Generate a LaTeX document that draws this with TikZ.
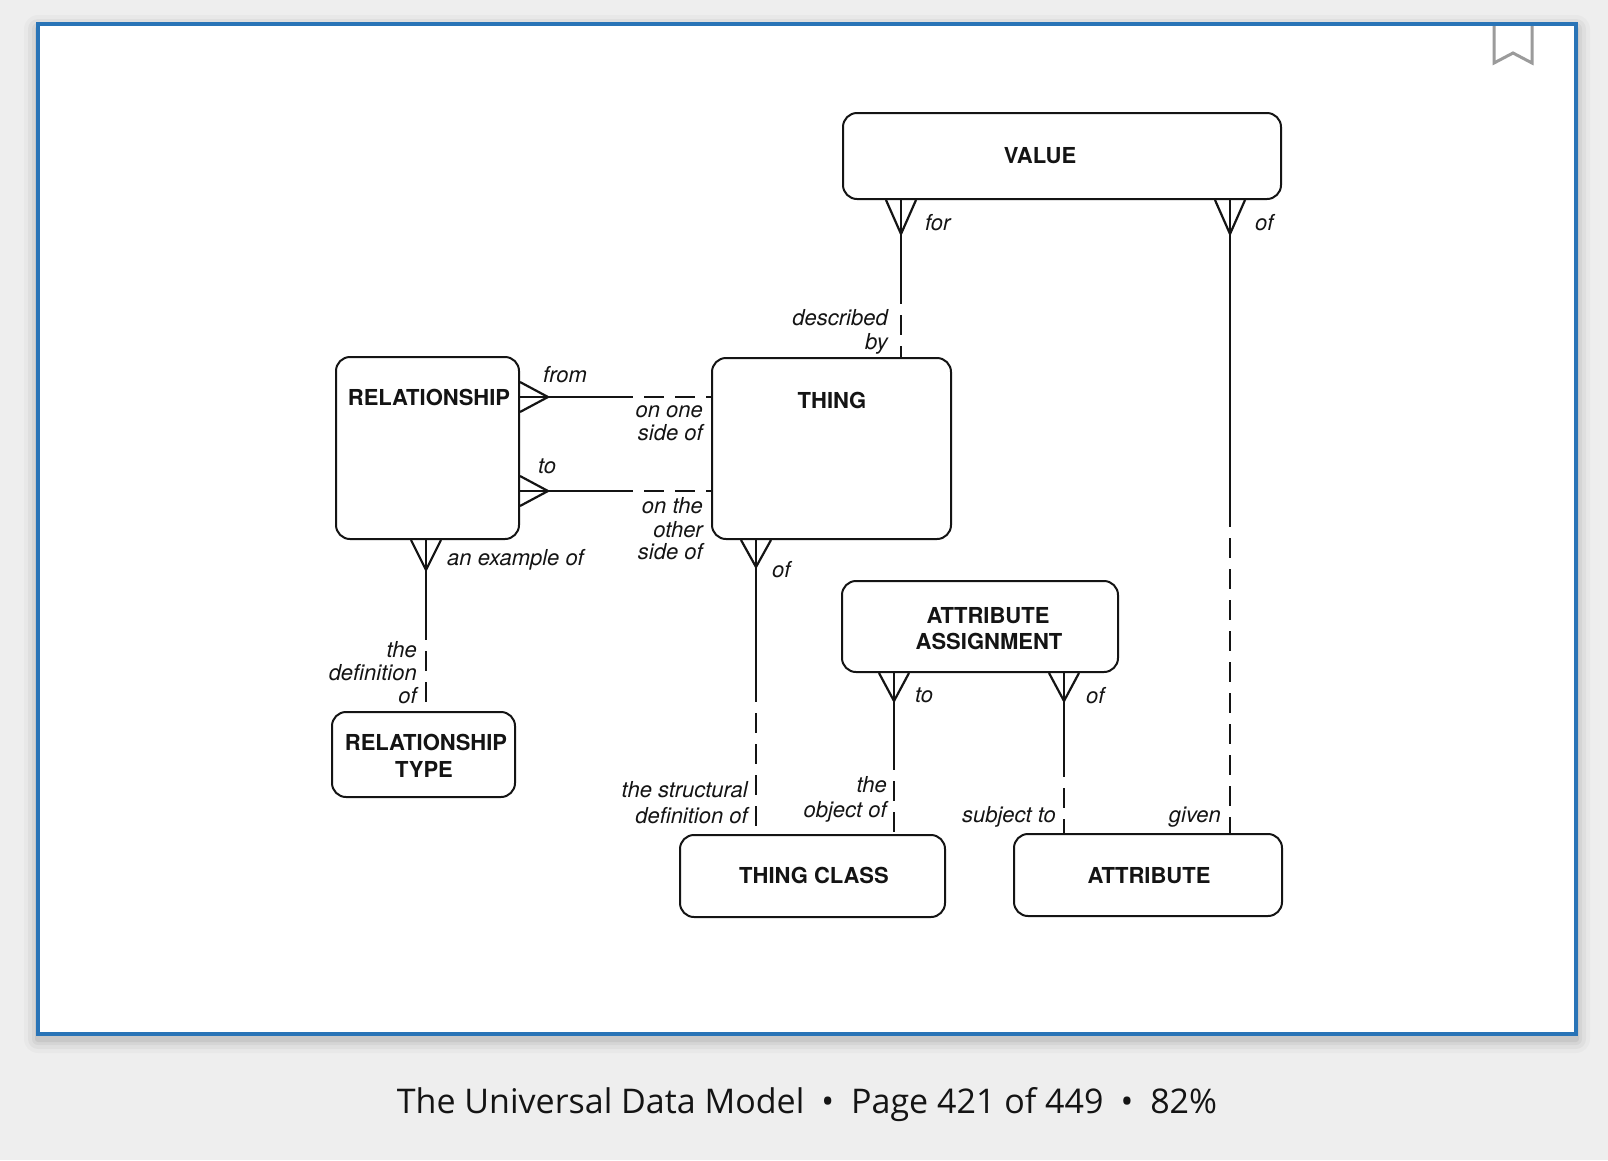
\documentclass[tikz,border=0pt]{standalone}
\usepackage{fontspec}
\setmainfont{TeX Gyre Heros}
\newfontfamily\capfont{Open Sans}
\usetikzlibrary{calc}
\definecolor{ink}{RGB}{20,20,20}
\definecolor{bgc}{RGB}{238,238,238}
\definecolor{frameblue}{RGB}{41,116,183}
\definecolor{bmgray}{RGB}{155,155,155}
\tikzset{
  box/.style={draw=ink, line width=2pt, rounded corners=14pt, inner sep=0pt, fill=white},
  bt/.style={font=\bfseries\fontsize{22}{24}\selectfont, inner sep=0pt, text=ink},
  lt/.style={font=\itshape\fontsize{22}{24}\selectfont, inner sep=0pt, text=ink},
  ln/.style={draw=ink, line width=2.2pt},
  dsh/.style={draw=ink, line width=2.2pt, dash pattern=on 20pt off 11pt, dash phase=20pt},
}
\newcommand\crowV[2]{\draw[ln, line join=miter] ($(#1)+(-15,0)$) -- (#2) -- ($(#1)+(15,0)$);}
\newcommand\crowH[2]{\draw[ln, line join=miter] ($(#1)+(0,-15)$) -- (#2) -- ($(#1)+(0,15)$);}
\begin{document}
\begin{tikzpicture}[x=1pt,y=-1pt]
\useasboundingbox (0,0) rectangle (1608,1160);
\fill[bgc] (0,0) rectangle (1608,1160);
% frame shadow
\foreach \d/\op in {14/0.025,10/0.035,6/0.045,3/0.06}{
  \fill[black,opacity=\op,rounded corners=\d pt] (38-\d,24-\d+5) rectangle (1576+\d,1034+\d+5);
}
\draw[frameblue, line width=4pt, fill=white] (38,24) rectangle (1576,1034);
% bookmark
\draw[white, line width=9pt, line join=miter, opacity=0.9] (1494,27) -- (1494,63) -- (1513,53) -- (1532,63) -- (1532,27);
\draw[bmgray, line width=3pt, line join=miter] (1494,26) -- (1494,63) -- (1513,53) -- (1532,63) -- (1532,26);

% boxes
\node[box, minimum width=438pt, minimum height=86pt] (value) at (1062,156) {};
\node[box, minimum width=239pt, minimum height=181pt] (thing) at (831.5,448.5) {};
\node[box, minimum width=183pt, minimum height=182pt] (rel) at (427.5,448) {};
\node[box, minimum width=183pt, minimum height=85pt] (rtype) at (423.5,754.5) {};
\node[box, minimum width=276pt, minimum height=91pt] (aa) at (980,626.5) {};
\node[box, minimum width=265pt, minimum height=82pt] (tclass) at (812.5,876) {};
\node[box, minimum width=268pt, minimum height=82pt] (attr) at (1148,875) {};

% box texts
\node[bt, anchor=base] (valuet) at (1040,163) {VALUE};
\node[bt, anchor=base] (thingt) at (832,408) {THING};
\node[bt, anchor=base] (relt) at (429,405) {RELATIONSHIP};
\node[bt, anchor=base] (rtypet1) at (426,750) {RELATIONSHIP};
\node[bt, anchor=base] (rtypet2) at (424,777) {TYPE};
\node[bt, anchor=base] (aat1) at (988,623) {ATTRIBUTE};
\node[bt, anchor=base] (aat2) at (989,649) {ASSIGNMENT};
\node[bt, anchor=base] (tct) at (814,883) {THING CLASS};
\node[bt, anchor=base] (attrt) at (1149,883) {ATTRIBUTE};

% connector x / y positions
\coordinate (x1) at (901,0);
\coordinate (x2) at (1230,0);
\coordinate (y3) at (0,397);
\coordinate (y4) at (0,491);
\coordinate (x5) at (426,0);
\coordinate (x6) at (756,0);
\coordinate (x7) at (894,0);
\coordinate (x8) at (1064,0);

% 1 VALUE - THING
\coordinate (b1) at (value.south -| x1);
\coordinate (t1) at ($(b1)+(0,34)$);
\coordinate (s1) at ($(b1)+(0,104)$);
\crowV{b1}{t1}
\draw[ln] (b1) -- (s1);
\draw[dsh] (s1) -- (thing.north -| x1);

% 2 VALUE - ATTRIBUTE
\coordinate (b2) at (value.south -| x2);
\coordinate (t2) at ($(b2)+(0,34)$);
\coordinate (s2) at ($(b2)+(0,327)$);
\crowV{b2}{t2}
\draw[ln] (b2) -- (s2);
\draw[dsh] (s2) -- (attr.north -| x2);

% 3 RELATIONSHIP from - THING
\coordinate (b3) at (rel.east |- y3);
\coordinate (t3) at ($(b3)+(28,0)$);
\coordinate (s3) at ($(b3)+(113,0)$);
\crowH{b3}{t3}
\draw[ln] (b3) -- (s3);
\draw[dsh] (s3) -- (thing.west |- y3);

% 4 RELATIONSHIP to - THING
\coordinate (b4) at (rel.east |- y4);
\coordinate (t4) at ($(b4)+(28,0)$);
\coordinate (s4) at ($(b4)+(113,0)$);
\crowH{b4}{t4}
\draw[ln] (b4) -- (s4);
\draw[dsh] (s4) -- (thing.west |- y4);

% 5 RELATIONSHIP - RELATIONSHIP TYPE
\coordinate (b5) at (rel.south -| x5);
\coordinate (t5) at ($(b5)+(0,30)$);
\coordinate (s5) at ($(b5)+(0,100)$);
\crowV{b5}{t5}
\draw[ln] (b5) -- (s5);
\draw[dsh] (s5) -- (rtype.north -| x5);

% 6 THING - THING CLASS
\coordinate (b6) at (thing.south -| x6);
\coordinate (t6) at ($(b6)+(0,27)$);
\coordinate (s6) at ($(b6)+(0,162)$);
\crowV{b6}{t6}
\draw[ln] (b6) -- (s6);
\draw[dsh] (s6) -- (tclass.north -| x6);

% 7 ATTRIBUTE ASSIGNMENT - THING CLASS
\coordinate (b7) at (aa.south -| x7);
\coordinate (t7) at ($(b7)+(0,28)$);
\coordinate (s7) at ($(b7)+(0,97)$);
\crowV{b7}{t7}
\draw[ln] (b7) -- (s7);
\draw[dsh] (s7) -- (tclass.north -| x7);

% 8 ATTRIBUTE ASSIGNMENT - ATTRIBUTE
\coordinate (b8) at (aa.south -| x8);
\coordinate (t8) at ($(b8)+(0,28)$);
\coordinate (s8) at ($(b8)+(0,104)$);
\crowV{b8}{t8}
\draw[ln] (b8) -- (s8);
\draw[dsh] (s8) -- (attr.north -| x8);

% relationship labels
\node[lt, anchor=base west] (l1) at (925,230) {for};
\node[lt, anchor=base west] (l2) at (1255,230) {of};
\node[lt, anchor=base east] (l3a) at (888,325) {described};
\node[lt, anchor=base east] (l3b) at (888,349) {by};
\node[lt, anchor=base west] (l4) at (543,382) {from};
\node[lt, anchor=base east] (l5a) at (703,417) {on one};
\node[lt, anchor=base east] (l5b) at (703,440) {side of};
\node[lt, anchor=base west] (l6) at (538,473) {to};
\node[lt, anchor=base east] (l7a) at (703,513) {on the};
\node[lt, anchor=base east] (l7b) at (703,537) {other};
\node[lt, anchor=base east] (l7c) at (703,559) {side of};
\node[lt, anchor=base west] (l8) at (447,565) {an example of};
\node[lt, anchor=base west] (l9) at (772,577) {of};
\node[lt, anchor=base east] (l10a) at (417,657) {the};
\node[lt, anchor=base east] (l10b) at (417,680) {definition};
\node[lt, anchor=base east] (l10c) at (417,703) {of};
\node[lt, anchor=base west] (l11) at (915,702) {to};
\node[lt, anchor=base west] (l12) at (1086,703) {of};
\node[lt, anchor=base east] (l13a) at (748,797) {the structural};
\node[lt, anchor=base east] (l13b) at (748,823) {definition of};
\node[lt, anchor=base east] (l14a) at (887,792) {the};
\node[lt, anchor=base east] (l14b) at (887,817) {object of};
\node[lt, anchor=base east] (l15) at (1056,822) {subject to};
\node[lt, anchor=base east] (l16) at (1221,822) {given};

% caption
\node[anchor=base, inner sep=0pt, text=ink, font=\capfont\fontsize{34}{36}\selectfont] (caption) at (807,1113)
  {The Universal Data Model\hspace{17pt}•\hspace{17pt}Page 421 of 449\hspace{17pt}•\hspace{17pt}82\%};
\end{tikzpicture}
\end{document}
